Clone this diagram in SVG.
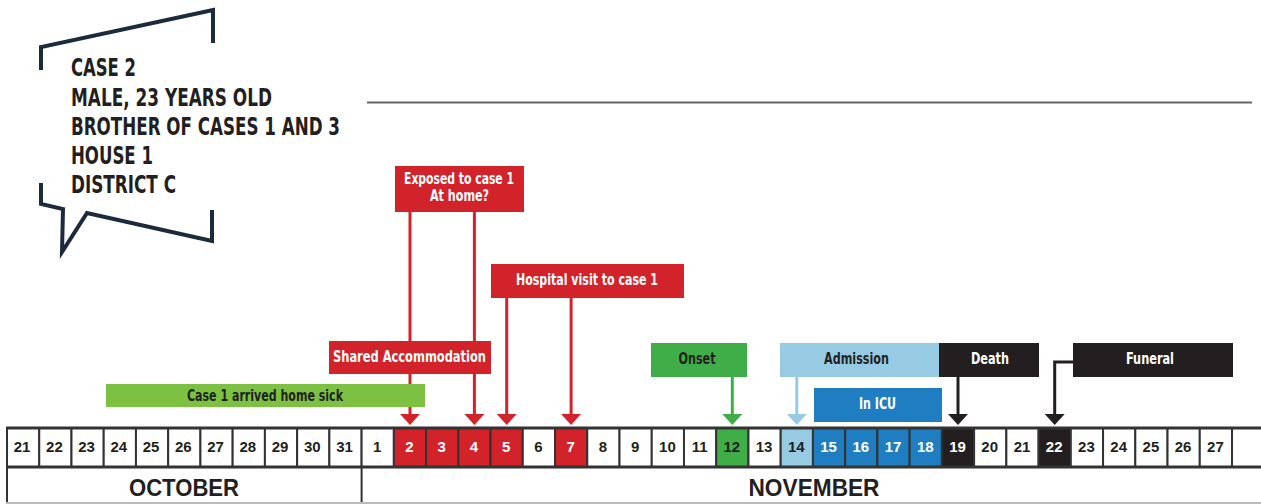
<svg xmlns="http://www.w3.org/2000/svg" width="1261" height="504" viewBox="0 0 1261 504">
<style>
.cond{font-family:"Liberation Sans Narrow","DejaVu Sans Condensed","Liberation Sans",sans-serif;font-weight:bold}
.title{font-size:25px;fill:#231f20}
.lbl{font-size:16px;text-anchor:middle}
.w{fill:#ffffff}
.d{fill:#231f20}
.num{font-family:"Liberation Sans",Arial,sans-serif;font-weight:bold;font-size:15px;text-anchor:middle}
.cell{stroke:#333333;stroke-width:2}
.month{font-family:"Liberation Sans",Arial,sans-serif;font-weight:bold;font-size:23px;text-anchor:middle;fill:#231f20}
.conn{fill:none;stroke-width:3}
</style>
<defs>
<marker id="ar" markerUnits="userSpaceOnUse" markerWidth="12" markerHeight="22" refX="4" refY="10" orient="auto" viewBox="0 0 12 22"><path d="M0,0 L11,10 L0,20 z" fill="#d2232a"/></marker>
<marker id="ag" markerUnits="userSpaceOnUse" markerWidth="12" markerHeight="22" refX="4" refY="10" orient="auto" viewBox="0 0 12 22"><path d="M0,0 L11,10 L0,20 z" fill="#3fae49"/></marker>
<marker id="alb" markerUnits="userSpaceOnUse" markerWidth="12" markerHeight="22" refX="4" refY="10" orient="auto" viewBox="0 0 12 22"><path d="M0,0 L11,10 L0,20 z" fill="#96cbe3"/></marker>
<marker id="ak" markerUnits="userSpaceOnUse" markerWidth="12" markerHeight="22" refX="4" refY="10" orient="auto" viewBox="0 0 12 22"><path d="M0,0 L11,10 L0,20 z" fill="#231f20"/></marker>
</defs>
<rect width="1261" height="504" fill="#ffffff"/>

<g id="case-bubble">
<polyline points="41,70 41,47 213,10 213,43" fill="none" stroke="#1c2b3c" stroke-width="4"/>
<polyline points="41,183 41,204 63,209 62,252 87,213 212,241 212,210" fill="none" stroke="#1c2b3c" stroke-width="4"/>
<text class="cond title" x="71" y="76" textLength="65" lengthAdjust="spacingAndGlyphs">CASE 2</text>
<text class="cond title" x="71" y="106" textLength="201" lengthAdjust="spacingAndGlyphs">MALE, 23 YEARS OLD</text>
<text class="cond title" x="71" y="135" textLength="269" lengthAdjust="spacingAndGlyphs">BROTHER OF CASES 1 AND 3</text>
<text class="cond title" x="71" y="164" textLength="82" lengthAdjust="spacingAndGlyphs">HOUSE 1</text>
<text class="cond title" x="71" y="193" textLength="105" lengthAdjust="spacingAndGlyphs">DISTRICT C</text>
</g>

<line x1="367" y1="102.5" x2="1252" y2="102.5" stroke="#666666" stroke-width="2"/>

<g id="connectors">
<line class="conn" x1="410" y1="212" x2="410" y2="418" stroke="#d2232a" marker-end="url(#ar)"/>
<line class="conn" x1="474.4" y1="212" x2="474.4" y2="418" stroke="#d2232a" marker-end="url(#ar)"/>
<line class="conn" x1="506.7" y1="298" x2="506.7" y2="418" stroke="#d2232a" marker-end="url(#ar)"/>
<line class="conn" x1="571.1" y1="298" x2="571.1" y2="418" stroke="#d2232a" marker-end="url(#ar)"/>
<line class="conn" x1="732.3" y1="377" x2="732.3" y2="418" stroke="#3fae49" marker-end="url(#ag)"/>
<line class="conn" x1="796.8" y1="377" x2="796.8" y2="418" stroke="#96cbe3" marker-end="url(#alb)"/>
<line class="conn" x1="958" y1="377" x2="958" y2="418" stroke="#231f20" stroke-width="2.5" marker-end="url(#ak)"/>
<polyline class="conn" points="1074,362 1054.7,362 1054.7,418" stroke="#231f20" stroke-width="2.5" marker-end="url(#ak)"/>
</g>

<g id="case1-arrived">
<rect x="106" y="384" width="319" height="23" fill="#7dc142"/>
<text class="cond lbl d" x="265" y="401" textLength="156" lengthAdjust="spacingAndGlyphs">Case 1 arrived home sick</text>
</g>
<g id="exposed">
<rect x="395" y="166" width="129" height="46" fill="#d2232a"/>
<text class="cond lbl w" x="459" y="184" font-size="13" textLength="110" lengthAdjust="spacingAndGlyphs">Exposed to case 1</text>
<text class="cond lbl w" x="459.5" y="201" font-size="13" textLength="59" lengthAdjust="spacingAndGlyphs">At home?</text>
</g>
<g id="hospital-visit">
<rect x="491" y="264" width="193" height="34" fill="#d2232a"/>
<text class="cond lbl w" x="587" y="285" textLength="142" lengthAdjust="spacingAndGlyphs">Hospital visit to case 1</text>
</g>
<g id="shared-accommodation">
<rect x="329" y="341" width="162" height="33" fill="#d2232a"/>
<text class="cond lbl w" x="409.5" y="362" textLength="153" lengthAdjust="spacingAndGlyphs">Shared Accommodation</text>
</g>
<g id="onset">
<rect x="651" y="343" width="96" height="34" fill="#3fae49"/>
<text class="cond lbl d" x="697" y="364" textLength="37" lengthAdjust="spacingAndGlyphs">Onset</text>
</g>
<g id="admission">
<rect x="780" y="343" width="160" height="34" fill="#96cbe3"/>
<text class="cond lbl d" x="856.5" y="364" textLength="65" lengthAdjust="spacingAndGlyphs">Admission</text>
</g>
<g id="death">
<rect x="939" y="343" width="100" height="34" fill="#231f20"/>
<text class="cond lbl w" x="990" y="364" textLength="38" lengthAdjust="spacingAndGlyphs">Death</text>
</g>
<g id="in-icu">
<rect x="814" y="388" width="128" height="34" fill="#1f7dc1"/>
<text class="cond lbl w" x="877.5" y="409" textLength="37" lengthAdjust="spacingAndGlyphs">In ICU</text>
</g>
<g id="funeral">
<rect x="1073" y="343" width="160" height="34" fill="#231f20"/>
<text class="cond lbl w" x="1150" y="364" textLength="48" lengthAdjust="spacingAndGlyphs">Funeral</text>
</g>

<g id="timeline">
<rect class="cell" x="7" y="428" width="32.24" height="39" fill="#fff"/><text class="num d" x="22.1" y="452">21</text>
<rect class="cell" x="39.24" y="428" width="32.24" height="39" fill="#fff"/><text class="num d" x="54.4" y="452">22</text>
<rect class="cell" x="71.47" y="428" width="32.24" height="39" fill="#fff"/><text class="num d" x="86.6" y="452">23</text>
<rect class="cell" x="103.71" y="428" width="32.24" height="39" fill="#fff"/><text class="num d" x="118.8" y="452">24</text>
<rect class="cell" x="135.95" y="428" width="32.24" height="39" fill="#fff"/><text class="num d" x="151.1" y="452">25</text>
<rect class="cell" x="168.19" y="428" width="32.24" height="39" fill="#fff"/><text class="num d" x="183.3" y="452">26</text>
<rect class="cell" x="200.42" y="428" width="32.24" height="39" fill="#fff"/><text class="num d" x="215.5" y="452">27</text>
<rect class="cell" x="232.66" y="428" width="32.24" height="39" fill="#fff"/><text class="num d" x="247.8" y="452">28</text>
<rect class="cell" x="264.9" y="428" width="32.24" height="39" fill="#fff"/><text class="num d" x="280.0" y="452">29</text>
<rect class="cell" x="297.13" y="428" width="32.24" height="39" fill="#fff"/><text class="num d" x="312.3" y="452">30</text>
<rect class="cell" x="329.37" y="428" width="32.24" height="39" fill="#fff"/><text class="num d" x="344.5" y="452">31</text>
<rect class="cell" x="361.61" y="428" width="32.24" height="39" fill="#fff"/><text class="num d" x="377.2" y="452">1</text>
<rect class="cell" x="393.84" y="428" width="32.24" height="39" fill="#d2232a"/><text class="num w" x="409.5" y="452">2</text>
<rect class="cell" x="426.08" y="428" width="32.24" height="39" fill="#d2232a"/><text class="num w" x="441.7" y="452">3</text>
<rect class="cell" x="458.32" y="428" width="32.24" height="39" fill="#d2232a"/><text class="num w" x="474" y="452">4</text>
<rect class="cell" x="490.56" y="428" width="32.24" height="39" fill="#d2232a"/><text class="num w" x="506.2" y="452">5</text>
<rect class="cell" x="522.79" y="428" width="32.24" height="39" fill="#fff"/><text class="num d" x="538.4" y="452">6</text>
<rect class="cell" x="555.03" y="428" width="32.24" height="39" fill="#d2232a"/><text class="num w" x="570.7" y="452">7</text>
<rect class="cell" x="587.27" y="428" width="32.24" height="39" fill="#fff"/><text class="num d" x="602.9" y="452">8</text>
<rect class="cell" x="619.5" y="428" width="32.24" height="39" fill="#fff"/><text class="num d" x="635.1" y="452">9</text>
<rect class="cell" x="651.74" y="428" width="32.24" height="39" fill="#fff"/><text class="num d" x="667.4" y="452">10</text>
<rect class="cell" x="683.98" y="428" width="32.24" height="39" fill="#fff"/><text class="num d" x="699.6" y="452">11</text>
<rect class="cell" x="716.21" y="428" width="32.24" height="39" fill="#3fae49"/><text class="num d" x="731.8" y="452">12</text>
<rect class="cell" x="748.45" y="428" width="32.24" height="39" fill="#fff"/><text class="num d" x="764.1" y="452">13</text>
<rect class="cell" x="780.69" y="428" width="32.24" height="39" fill="#96cbe3"/><text class="num d" x="796.3" y="452">14</text>
<rect class="cell" x="812.93" y="428" width="32.24" height="39" fill="#1f7dc1"/><text class="num w" x="828.5" y="452">15</text>
<rect class="cell" x="845.16" y="428" width="32.24" height="39" fill="#1f7dc1"/><text class="num w" x="860.8" y="452">16</text>
<rect class="cell" x="877.4" y="428" width="32.24" height="39" fill="#1f7dc1"/><text class="num w" x="893" y="452">17</text>
<rect class="cell" x="909.64" y="428" width="32.24" height="39" fill="#1f7dc1"/><text class="num w" x="925.3" y="452">18</text>
<rect class="cell" x="941.87" y="428" width="32.24" height="39" fill="#231f20"/><text class="num w" x="957.5" y="452">19</text>
<rect class="cell" x="974.11" y="428" width="32.24" height="39" fill="#fff"/><text class="num d" x="989.7" y="452">20</text>
<rect class="cell" x="1006.35" y="428" width="32.24" height="39" fill="#fff"/><text class="num d" x="1022" y="452">21</text>
<rect class="cell" x="1038.58" y="428" width="32.24" height="39" fill="#231f20"/><text class="num w" x="1054.2" y="452">22</text>
<rect class="cell" x="1070.82" y="428" width="32.24" height="39" fill="#fff"/><text class="num d" x="1086.4" y="452">23</text>
<rect class="cell" x="1103.06" y="428" width="32.24" height="39" fill="#fff"/><text class="num d" x="1118.7" y="452">24</text>
<rect class="cell" x="1135.3" y="428" width="32.24" height="39" fill="#fff"/><text class="num d" x="1150.9" y="452">25</text>
<rect class="cell" x="1167.53" y="428" width="32.24" height="39" fill="#fff"/><text class="num d" x="1183.1" y="452">26</text>
<rect class="cell" x="1199.77" y="428" width="32.24" height="39" fill="#fff"/><text class="num d" x="1215.4" y="452">27</text>
<rect class="cell" x="1232.01" y="428" width="32.24" height="39" fill="#fff"/>
<line x1="6" y1="428" x2="1261" y2="428" stroke="#333333" stroke-width="3"/>
<line x1="6" y1="467" x2="1261" y2="467" stroke="#333333" stroke-width="3"/>
</g>

<g id="months">
<line x1="7" y1="467" x2="7" y2="504" stroke="#333333" stroke-width="2"/>
<line x1="361.6" y1="467" x2="361.6" y2="504" stroke="#333333" stroke-width="2"/>
<line x1="6" y1="503" x2="1261" y2="503" stroke="#bbbbbb" stroke-width="2"/>
<text class="month" x="184" y="496" textLength="110" lengthAdjust="spacingAndGlyphs">OCTOBER</text>
<text class="month" x="814" y="496" textLength="131" lengthAdjust="spacingAndGlyphs">NOVEMBER</text>
</g>
</svg>
